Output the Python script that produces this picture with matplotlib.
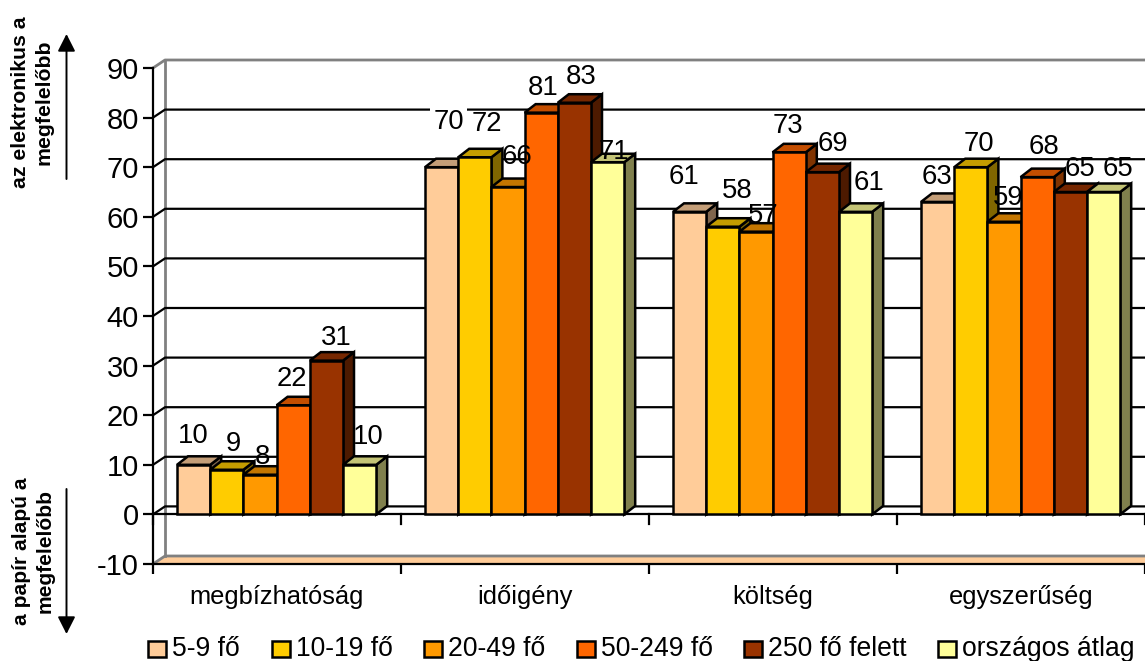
import matplotlib
matplotlib.use("Agg")
import matplotlib.pyplot as plt
from matplotlib.patches import Polygon, Rectangle

plt.rcParams['font.family'] = ['Liberation Sans', 'DejaVu Sans']
plt.rcParams['axes.unicode_minus'] = False

categories = ['megbízhatóság', 'időigény', 'költség', 'egyszerűség']
series = ['5-9 fő', '10-19 fő', '20-49 fő', '50-249 fő', '250 fő felett', 'országos átlag']
v_5_9 = [10, 70, 61, 63]
v_10_19 = [9, 72, 58, 70]
v_20_49 = [8, 66, 57, 59]
v_50_249 = [22, 81, 73, 68]
v_250 = [31, 83, 69, 65]
v_orszagos = [10, 71, 61, 65]
yticks = [-10, 0, 10, 20, 30, 40, 50, 60, 70, 80, 90]
values = [v_5_9, v_10_19, v_20_49, v_50_249, v_250, v_orszagos]

front = ['#FFCC99', '#FFCC00', '#FF9900', '#FF6600', '#993300', '#FFFF99']
top = ['#C49E78', '#C49D00', '#C47600', '#C44E00', '#762700', '#C4C476']
side = ['#80664D', '#806600', '#804D00', '#803300', '#4D1A00', '#80804D']

# data label offsets from the bar's front top centre, in pixels (series by category)
lab_dx = [[0, 7, -6, -1], [7, 12, 14, 8], [2, 9, 7, 4], [-1, 2, -1, 7], [10, 7, 10, 10], [9, 6, 13, 14]]
lab_dy = [[29, 45, 35, 25], [26, 33, 36, 23], [18, 30, 16, 24], [26, 25, 26, 30], [23, 26, 28, 23], [28, 10, 29, 23]]

W, H = 1145, 661
fig = plt.figure(figsize=(W / 100, H / 100), dpi=100)
ax = fig.add_axes([153 / W, (H - 564) / H, 992 / W, 496 / H])
ax.set_xlim(0, 4)
ax.set_ylim(-10, 90)

ux = 1 / 248   # data units per pixel
uy = 1 / 4.96
wall_dx, wall_dy = 12 * ux, 8 * uy
bar_dx, bar_dy = 11 * ux, 8.5 * uy
bar_w = 33.2 * ux
gap = 24 * ux
LW = 1.6       # axes and gridlines
BAR_LW = 1.8
GRAY = '#808080'

for s in ['top', 'right']:
    ax.spines[s].set_visible(False)
for s in ['left', 'bottom']:
    ax.spines[s].set_linewidth(LW)
ax.set_yticks(yticks)
ax.set_xticks(range(5))
ax.set_xticklabels([])
ax.set_xticks([i + .5 for i in range(4)], categories, minor=True)
ax.tick_params(axis='y', length=7.2, width=LW, labelsize=21, pad=3)
ax.tick_params(axis='x', which='major', length=7.2, width=LW)
ax.tick_params(axis='x', which='minor', length=0, labelsize=18.4, pad=15)

# back wall and floor
ax.add_patch(Polygon([(0, -10), (wall_dx, -10 + wall_dy), (4.1, -10 + wall_dy), (4.1, -10)],
                     fc='#FFCC99', ec='none', zorder=1))
ax.plot([0, wall_dx, 4], [-10, -10 + wall_dy, -10 + wall_dy], color=GRAY, lw=2, zorder=1.5)
ax.plot([wall_dx, wall_dx], [-10 + wall_dy, 90 + wall_dy], color=GRAY, lw=2, zorder=1.5, clip_on=False)
ax.plot([0, wall_dx, 4], [90, 90 + wall_dy, 90 + wall_dy], color=GRAY, lw=2, zorder=1.5, clip_on=False)
for t in yticks[1:-1]:
    ax.plot([0, wall_dx, 4], [t, t + wall_dy, t + wall_dy], color='black', lw=LW, zorder=1.6)

# zero axis with its own tick marks
ax.axhline(0, color='black', lw=LW, zorder=2.8)
for i in range(5):
    ax.plot([i, i], [0, -10 * uy], color='black', lw=LW, zorder=2.8, clip_on=False)

for j, vals in enumerate(values):
    for i, v in enumerate(vals):
        x0 = i + gap + j * bar_w
        x1 = x0 + bar_w
        z = 3 + j * .01
        ax.add_patch(Polygon([(x1, 0), (x1 + bar_dx, bar_dy), (x1 + bar_dx, v + bar_dy), (x1, v)],
                             fc=side[j], ec='black', lw=BAR_LW, zorder=z, clip_on=False))
        ax.add_patch(Polygon([(x0, v), (x0 + bar_dx, v + bar_dy), (x1 + bar_dx, v + bar_dy), (x1, v)],
                             fc=top[j], ec='black', lw=BAR_LW, zorder=z, clip_on=False))
        ax.add_patch(Rectangle((x0, 0), bar_w, v, fc=front[j], ec='black', lw=BAR_LW, zorder=z))
        # the 70 label in the second group knocks out the gridline behind it
        bbox = dict(fc='white', ec='none', pad=2.5) if (i, j) == (1, 0) else None
        ax.text((x0 + x1) / 2 + lab_dx[j][i] * ux, v + lab_dy[j][i] * uy, str(v),
                ha='center', va='center', fontsize=19.8, zorder=6, bbox=bbox)


def fx(px):
    return px / W


def fy(py):
    return 1 - py / H


# legend
swatch_x = [148, 272, 424, 577, 744, 938]
for j, name in enumerate(series):
    fig.add_artist(Rectangle((fx(swatch_x[j]), fy(657)), 18 / W, 16 / H, fc=front[j], ec='black',
                             lw=BAR_LW, transform=fig.transFigure))
    fig.text(fx(swatch_x[j] + 24), fy(649), name, fontsize=19.1, ha='left', va='center')

# side captions and arrows
fig.text(fx(32.5), fy(102), 'az elektronikus a\nmegfelelőbb', rotation=90, fontsize=15.3,
         fontweight='bold', ha='center', va='center', ma='center', linespacing=1.3)
fig.text(fx(33.5), fy(551), 'a papír alapú a\nmegfelelőbb', rotation=90, fontsize=15.1,
         fontweight='bold', ha='center', va='center', ma='center', linespacing=1.3)
arrow = dict(arrowstyle='-|>,head_length=0.75,head_width=0.38', color='black', lw=1.4,
             shrinkA=0, shrinkB=0, mutation_scale=14)
ax.annotate('', xy=(fx(66.5), fy(34)), xytext=(fx(66.5), fy(179)), xycoords='figure fraction',
            textcoords='figure fraction', arrowprops=arrow, annotation_clip=False)
ax.annotate('', xy=(fx(66.5), fy(634)), xytext=(fx(66.5), fy(489)), xycoords='figure fraction',
            textcoords='figure fraction', arrowprops=arrow, annotation_clip=False)

fig.savefig('out.png', dpi=100)
